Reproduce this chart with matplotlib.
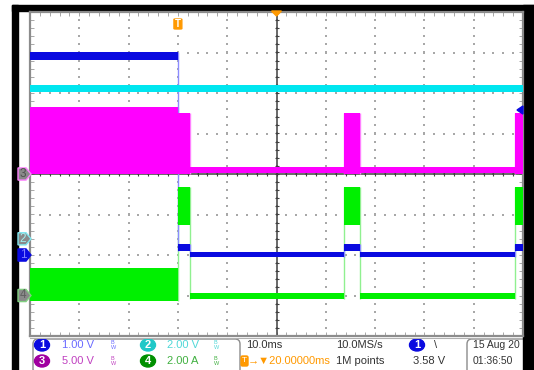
import numpy as np
import matplotlib
matplotlib.use("Agg")
import matplotlib.pyplot as plt
from matplotlib.patches import Rectangle, FancyBboxPatch, Polygon, Ellipse
from matplotlib.transforms import blended_transform_factory

W, H = 534, 370
FONT = ["Liberation Sans", "DejaVu Sans"]
FS = 8

# time base: 10 ms/div, trigger delayed 20 ms from centre
time_span = [-50.0, 50.0]
trigger_time = -20.0

# segment edges in ms, shared by the switching traces
edges = [-50.0, -20.0, -17.6, 13.7, 16.9, 48.4, 50.0]

# trace bands in divisions (top / bottom of each segment)
ch1_top = [3.01, -1.73, -1.93, -1.73, -1.93, -1.73]
ch1_bottom = [2.81, -1.90, -2.05, -1.90, -2.05, -1.90]
ch2_top = [2.20]
ch2_bottom = [2.02]
ch3_top = [1.65, 1.50, 0.17, 1.50, 0.17, 1.50]
ch3_bottom = [0.0, 0.0, 0.02, 0.0, 0.02, 0.0]
ch4_top = [-2.32, -0.32, -2.93, -0.32, -2.93, -0.32]
ch4_bottom = [-3.14, -1.26, -3.09, -1.26, -3.09, -1.26]

# channel ground markers (div) and trigger level (div)
channel_ids = ["3", "2", "1", "4"]
channel_offsets = [0.0, -1.6, -2.0, -3.0]
trigger_level = 1.58

# readout panel
scale_labels = ["1.00 V", "2.00 V", "5.00 V", "2.00 A"]
timebase_label = "10.0ms"
delay_label = "20.00000ms"
rate_label = "10.0MS/s"
points_label = "1M points"
trig_label = "3.58 V"
date_label = "15 Aug 20"
clock_label = "01:36:50"

BLUE = "#0a0ae0"
CYAN = "#00e6f0"
MAGENTA = "#ff00ff"
GREEN = "#00f000"
ORANGE = "#ff9900"


def band(ax, top, bottom, seg_edges, color, edge_color):
    top = np.array(top)
    bottom = np.array(bottom)
    seg_edges = np.array(seg_edges)
    ax.bar(seg_edges[:-1], top - bottom, width=np.diff(seg_edges), bottom=bottom,
           align="edge", color=color, linewidth=0, zorder=4)
    if len(top) > 1:
        lo = np.minimum(bottom[:-1], bottom[1:])
        hi = np.maximum(top[:-1], top[1:])
        ax.vlines(seg_edges[1:-1], lo, hi, color=edge_color, linewidth=1.0, zorder=3.5)


fig = plt.figure(figsize=(W / 100, H / 100), dpi=100)

# background / overlay in pixel coordinates
bg = fig.add_axes([0, 0, 1, 1])
bg.set_xlim(0, W)
bg.set_ylim(H, 0)
bg.axis("off")

# graticule
gx0, gx1, gy0, gy1 = 30, 523, 12, 336
ax = fig.add_axes([gx0 / W, (H - gy1) / H, (gx1 - gx0) / W, (gy1 - gy0) / H])
ax.set_xlim(*time_span)
ax.set_ylim(-4, 4)
ax.set_facecolor("white")
for s in ax.spines.values():
    s.set_color("#8c8c8c")
    s.set_linewidth(1.6)
ax.set_xticks([])
ax.set_yticks([])
ax.set_xticks(np.arange(-50, 51, 2), minor=True)
ax.set_yticks(np.arange(-4, 4.01, 0.2), minor=True)
ax.tick_params(which="minor", direction="in", length=3, color="#9a9a9a",
               top=True, right=True, labelbottom=False, labelleft=False)

# dotted grid
major_x = np.arange(-40, 41, 10)
major_y = np.arange(-3, 4, 1)
minor_x = np.arange(-50, 51, 2)
minor_y = np.arange(-4, 4.01, 0.2)
gx, gy = np.meshgrid(major_x, minor_y)
ax.scatter(gx.ravel(), gy.ravel(), s=1.0, marker="s", color="#a8a8a8", linewidths=0, zorder=1)
gx, gy = np.meshgrid(minor_x, major_y)
ax.scatter(gx.ravel(), gy.ravel(), s=1.0, marker="s", color="#a8a8a8", linewidths=0, zorder=1)

# centre axes with ticks
ax.axvline(0, color="#404040", linewidth=1.1, zorder=2)
ax.axhline(0, color="#404040", linewidth=1.1, zorder=2)
ax.scatter(np.zeros_like(minor_y), minor_y, marker="_", s=12, color="#404040", linewidths=0.8, zorder=2)
ax.scatter(minor_x, np.zeros_like(minor_x), marker="|", s=12, color="#404040", linewidths=0.8, zorder=2)

# traces
band(ax, ch3_top, ch3_bottom, edges, MAGENTA, "#ff80ff")
band(ax, ch4_top, ch4_bottom, edges, GREEN, "#90f090")
band(ax, ch2_top, ch2_bottom, time_span, CYAN, CYAN)
band(ax, ch1_top, ch1_bottom, edges, BLUE, "#8c8cff")

# trigger level marker (right edge)
tr_r = blended_transform_factory(bg.transData, ax.transData)
ax.add_patch(Polygon([[523, trigger_level + 0.1], [517, trigger_level], [523, trigger_level - 0.1]],
                     closed=True, color=BLUE, transform=tr_r, clip_on=False, zorder=6))

# channel ground markers on the left
marker_face = ["#8a8a8a", "#8a8a8a", BLUE, "#8a8a8a"]
marker_edge = ["#ff80ff", "#80e8f0", BLUE, "#80d080"]
marker_text = ["#505050", "#a0f0f0", "#8080ff", "#606060"]
for cid, lvl, fc, ec, tc in zip(channel_ids, channel_offsets, marker_face, marker_edge, marker_text):
    h = 0.15
    ax.add_patch(Polygon([[18, lvl + h], [26, lvl + h], [31, lvl], [26, lvl - h], [18, lvl - h]],
                         closed=True, facecolor=fc, edgecolor=ec, linewidth=1.0,
                         transform=tr_r, clip_on=False, zorder=6))
    ax.text(23, lvl, cid, transform=tr_r, ha="center", va="center", fontsize=8.5,
            color=tc, family=FONT, zorder=7, clip_on=False)

# trigger position marker and delay reference on top
tr_t = blended_transform_factory(ax.transData, bg.transData)
ax.add_patch(FancyBboxPatch((trigger_time - 0.8, 19), 1.6, 10,
                            boxstyle="round,pad=0,rounding_size=0.4",
                            facecolor=ORANGE, edgecolor=ORANGE, transform=tr_t,
                            clip_on=False, zorder=6))
ax.text(trigger_time, 24, "T", transform=tr_t, ha="center", va="center",
        fontsize=7, color="white", family=FONT, zorder=7, clip_on=False, fontweight="bold")
ax.add_patch(Polygon([[-1.0, 11], [1.0, 11], [0, 16]], closed=True, color=ORANGE,
                     transform=tr_t, clip_on=False, zorder=6))

# readout panel
bg.add_patch(FancyBboxPatch((33, 339), 207, 36, boxstyle="round,pad=0,rounding_size=5",
                            facecolor="none", edgecolor="#8c8c8c", linewidth=1.0))
bg.add_patch(FancyBboxPatch((467, 339), 80, 36, boxstyle="round,pad=0,rounding_size=5",
                            facecolor="none", edgecolor="#8c8c8c", linewidth=1.0))
bg.plot([30, 523], [337.5, 337.5], color="#b0b0b0", linewidth=0.8)

row1, row2 = 345, 361
badges = [(42, row1, "1", BLUE), (148, row1, "2", "#20c8c8"),
          (42, row2, "3", "#a000a0"), (148, row2, "4", "#009000")]
label_pos = [(62, row1), (167, row1), (62, row2), (167, row2)]
label_col = ["#6a6aff", "#50d8d8", "#c040c0", "#40b040"]
bw_x = [112, 215, 112, 215]
for (bx, by, num, col) in badges:
    bg.add_patch(Ellipse((bx, by), 15, 12, color=col))
    bg.text(bx, by, num, ha="center", va="center", color="white", fontsize=8,
            family=FONT, fontweight="bold")
for (lx, ly), txt, col, wx in zip(label_pos, scale_labels, label_col, bw_x):
    bg.text(lx, ly, txt, ha="left", va="center", color=col, fontsize=FS, family=FONT)
    bg.text(wx, ly - 2.5, "B", ha="center", va="center", color=col, fontsize=4, family=FONT)
    bg.text(wx + 2, ly + 2.5, "W", ha="center", va="center", color=col, fontsize=4, family=FONT)

bg.text(246, row1, timebase_label, ha="left", va="center", color="#333333", fontsize=FS, family=FONT)
bg.add_patch(FancyBboxPatch((241, row2 - 5), 7, 10, boxstyle="round,pad=0,rounding_size=1.5",
                            color=ORANGE))
bg.text(244.5, row2, "T", ha="center", va="center", color="white", fontsize=6, family=FONT)
bg.text(248, row2, "\u2192\u25bc" + delay_label, ha="left", va="center", color=ORANGE,
        fontsize=FS, family=FONT)
bg.text(336, row1, rate_label, ha="left", va="center", color="#333333", fontsize=FS, family=FONT)
bg.text(336, row2, points_label, ha="left", va="center", color="#333333", fontsize=FS, family=FONT)
bg.add_patch(Ellipse((417, row1), 15, 12, color=BLUE))
bg.text(417, row1, "1", ha="center", va="center", color="white", fontsize=8, family=FONT,
        fontweight="bold")
bg.text(434, row1, "\\", ha="left", va="center", color="#333333", fontsize=FS, family=FONT)
bg.text(413, row2, trig_label, ha="left", va="center", color="#333333", fontsize=FS, family=FONT)
bg.text(473, row1, date_label, ha="left", va="center", color="#333333", fontsize=7.5, family=FONT)
bg.text(473, row2, clock_label, ha="left", va="center", color="#333333", fontsize=7.5, family=FONT)

# black bezel
for rect in [(12, 5, 6, H), (12, 5, W, 6), (523, 5, 20, H)]:
    bg.add_patch(Rectangle(rect[:2], rect[2], rect[3], color="black", zorder=10))

fig.savefig("out.png", dpi=100)
